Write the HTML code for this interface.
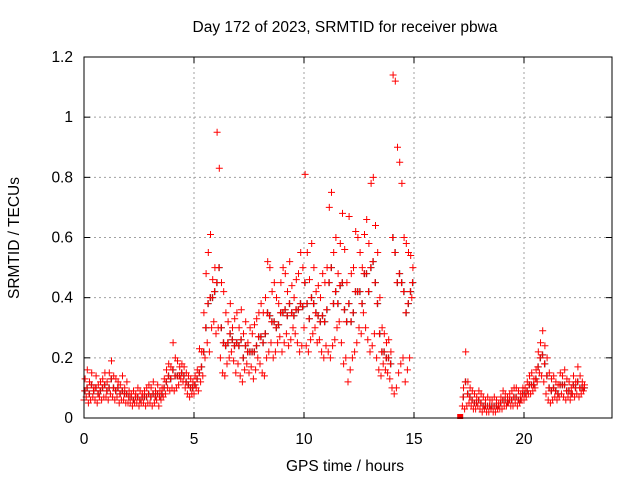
<!DOCTYPE html>
<html><head><meta charset="utf-8"><style>
body{margin:0;background:#fff}
svg{display:block;font-family:"Liberation Sans",sans-serif;font-size:15.5px}
</style></head><body>
<svg id="chart" width="640" height="480" viewBox="0 0 640 480">
<text x="345" y="32" text-anchor="middle">Day 172 of 2023, SRMTID for receiver pbwa</text>
<text x="345" y="471" text-anchor="middle">GPS time / hours</text>
<text x="19" y="238" text-anchor="middle" transform="rotate(-90 19 238)">SRMTID / TECUs</text>
<g id="grid"></g>
<g id="ticks"></g>
<g id="marks"></g>
<rect x="84" y="57" width="528" height="361" fill="none" stroke="#000" stroke-width="1"/>
</svg>
<script>
const xTicks=[0,5,10,15,20];
const yTicks=[0,0.2,0.4,0.6,0.8,1,1.2];
const yTickLabels=["0","0.2","0.4","0.6","0.8","1","1.2"];
const seg1Start=0.0;
const seg1Lo=[.06,.07,.05,.06,.07,.06,.05,.07,.06,.07,
.07,.06,.08,.07,.06,.07,.05,.06,.06,.05,
.05,.05,.04,.05,.05,.04,.05,.05,.04,.05,
.05,.04,.05,.06,.04,.06,.07,.08,.10,.09,
.10,.09,.10,.11,.13,.12,.10,.08,.07,.08,
.08,.10,.09,.12,.14,.20,.25,.22,.30,.32,
.28,.30,.20,.15,.14,.18,.20,.22,.19,.15,
.18,.14,.12,.16,.18,.15,.17,.13,.16,.20,
.18,.15,.14,.20,.22,.25,.20,.22,.25,.27,
.22,.25,.28,.24,.26,.30,.28,.25,.22,.24,
.30,.24,.22,.26,.28,.30,.25,.26,.22,.20,
.24,.22,.20,.24,.26,.30,.32,.25,.18,.20,
.12,.16,.20,.22,.25,.30,.28,.35,.30,.26,
.22,.24,.28,.20,.16,.14,.18,.16,.15,.13,
.10,.08,.10,.15,.18,.20,.12,.16,.20,.40];
const seg1Mid=[.09,.10,.08,.11,.09,.10,.08,.09,.10,.11,
.09,.10,.13,.10,.09,.10,.08,.09,.08,.08,
.07,.07,.06,.07,.07,.06,.07,.07,.07,.08,
.07,.08,.07,.08,.07,.08,.10,.12,.14,.13,
.16,.14,.14,.14,.15,.14,.12,.11,.10,.10,
.11,.13,.15,.17,.22,.30,.38,.40,.40,.42,
.45,.50,.30,.25,.24,.25,.28,.26,.24,.25,
.24,.26,.20,.24,.22,.22,.22,.22,.24,.27,
.27,.25,.28,.35,.34,.32,.32,.30,.31,.35,
.35,.36,.34,.38,.35,.34,.36,.36,.38,.37,
.45,.38,.33,.40,.38,.35,.34,.32,.34,.32,
.36,.45,.50,.38,.42,.38,.44,.45,.36,.32,
.38,.32,.35,.42,.42,.42,.38,.48,.48,.42,
.50,.52,.45,.38,.28,.22,.22,.20,.20,.18,
.60,.55,.45,.48,.45,.42,.35,.38,.42,.45];
const seg1Hi=[.13,.16,.12,.15,.10,.14,.11,.12,.13,.15,
.12,.15,.19,.14,.13,.12,.11,.14,.10,.12,
.09,.08,.09,.08,.10,.09,.08,.09,.10,.11,
.10,.12,.09,.11,.09,.10,.13,.16,.18,.17,
.25,.20,.19,.17,.18,.17,.15,.14,.13,.12,
.14,.16,.23,.22,.35,.48,.55,.61,.46,.50,
.95,.83,.45,.42,.35,.32,.38,.30,.33,.35,
.30,.36,.28,.32,.25,.30,.28,.31,.33,.35,
.38,.35,.40,.52,.50,.42,.45,.40,.38,.45,
.50,.48,.42,.52,.44,.40,.46,.48,.55,.50,
.81,.55,.46,.58,.50,.42,.44,.40,.48,.45,
.50,.70,.75,.55,.60,.48,.58,.68,.56,.45,
.67,.48,.50,.62,.60,.55,.50,.61,.66,.58,
.78,.80,.64,.55,.40,.30,.28,.25,.26,.22,
1.14,1.12,.90,.85,.78,.60,.58,.55,.54,.50];
const lonePointT=[17.1];
const lonePointV=[0.0];
const seg2Start=17.2;
const seg2Lo=[.04,.03,.04,.05,.04,.03,.03,.04,
.03,.02,.03,.02,.02,.03,.02,.02,.03,.03,
.03,.04,.04,.05,.04,.04,.05,.04,.05,.06,
.06,.07,.08,.08,.09,.10,.12,.15,.14,.12,
.08,.06,.05,.06,.07,.06,.07,.08,.07,.06,
.07,.06,.08,.07,.08,.07,.08,.09];
const seg2Mid=[.07,.12,.08,.07,.06,.05,.05,.06,
.05,.04,.04,.04,.04,.04,.04,.04,.04,.05,
.06,.06,.05,.06,.06,.07,.07,.06,.06,.08,
.08,.09,.11,.11,.11,.13,.17,.20,.21,.18,
.14,.10,.09,.10,.09,.08,.11,.11,.11,.09,
.09,.08,.11,.10,.12,.10,.10,.10];
const seg2Hi=[.10,.22,.12,.10,.09,.08,.07,.09,
.08,.07,.06,.07,.06,.06,.07,.06,.05,.07,
.09,.08,.07,.08,.09,.10,.10,.09,.08,.10,
.10,.12,.14,.15,.13,.16,.22,.25,.29,.24,
.20,.15,.13,.14,.12,.11,.15,.14,.16,.13,
.12,.10,.14,.12,.17,.14,.12,.11];
const step=0.1;
const X0=84,X1=612,Y0=418,Y1=57,XMAX=24,YMAX=1.2;
function xs(t){return X0+(X1-X0)*t/XMAX;}
function ys(v){return Y0-(Y0-Y1)*v/YMAX;}
const NS="http://www.w3.org/2000/svg";
const grid=document.getElementById('grid'),ticks=document.getElementById('ticks'),marks=document.getElementById('marks');
function mk(tag,attrs,parent){const e=document.createElementNS(NS,tag);for(const k in attrs)e.setAttribute(k,attrs[k]);parent.appendChild(e);return e;}
xTicks.forEach(t=>{
  const x=xs(t);
  if(t>0){const g=mk('line',{x1:x,x2:x,y1:Y1,y2:Y0,stroke:'#a0a0a0','stroke-dasharray':'2,3'},grid);
  
  }
  mk('line',{x1:x,x2:x,y1:Y0,y2:Y0-6,stroke:'#000'},ticks);
  mk('line',{x1:x,x2:x,y1:Y1,y2:Y1+6,stroke:'#000'},ticks);
  const l=mk('text',{x:x,y:444,'text-anchor':'middle'},ticks);l.textContent=t;
  
  
});
yTicks.forEach((v,i)=>{
  const y=ys(v);
  if(v>0&&v<1.2){const g=mk('line',{x1:X0,x2:X1,y1:y,y2:y,stroke:'#a0a0a0','stroke-dasharray':'2,3'},grid);
  
  }
  mk('line',{x1:X0,x2:X0+6,y1:y,y2:y,stroke:'#000'},ticks);
  mk('line',{x1:X1,x2:X1-6,y1:y,y2:y,stroke:'#000'},ticks);
  const l=mk('text',{x:X0-11,y:y+5,'text-anchor':'end'},ticks);l.textContent=yTickLabels[i];
  
  
});
function cross(t,v,col){
  const x=xs(t),y=ys(v);
  const p=mk('path',{d:`M${x-3.5} ${y}H${x+3.5}M${x} ${y-3.5}V${y+3.5}`,stroke:col,'stroke-width':1,fill:'none'},marks);
  
  
}
function seg(start,lo,mid,hi){
  mid.forEach((v,i)=>{cross(start+i*step+0.05,v,'#404040');});
  lo.forEach((v,i)=>{cross(start+i*step,v,'#ff0000');});
  mid.forEach((v,i)=>{cross(start+i*step+0.03,v,'#ff0000');});
  hi.forEach((v,i)=>{cross(start+i*step+0.05,v,'#ff0000');});
}
seg(seg1Start,seg1Lo,seg1Mid,seg1Hi);
seg(seg2Start,seg2Lo,seg2Mid,seg2Hi);
lonePointT.forEach((t,i)=>{
  const r=mk('rect',{x:xs(t)-3,y:ys(lonePointV[i])-4,width:6,height:5,fill:'#ff0000'},marks);
  
  
});
</script>
</body></html>
